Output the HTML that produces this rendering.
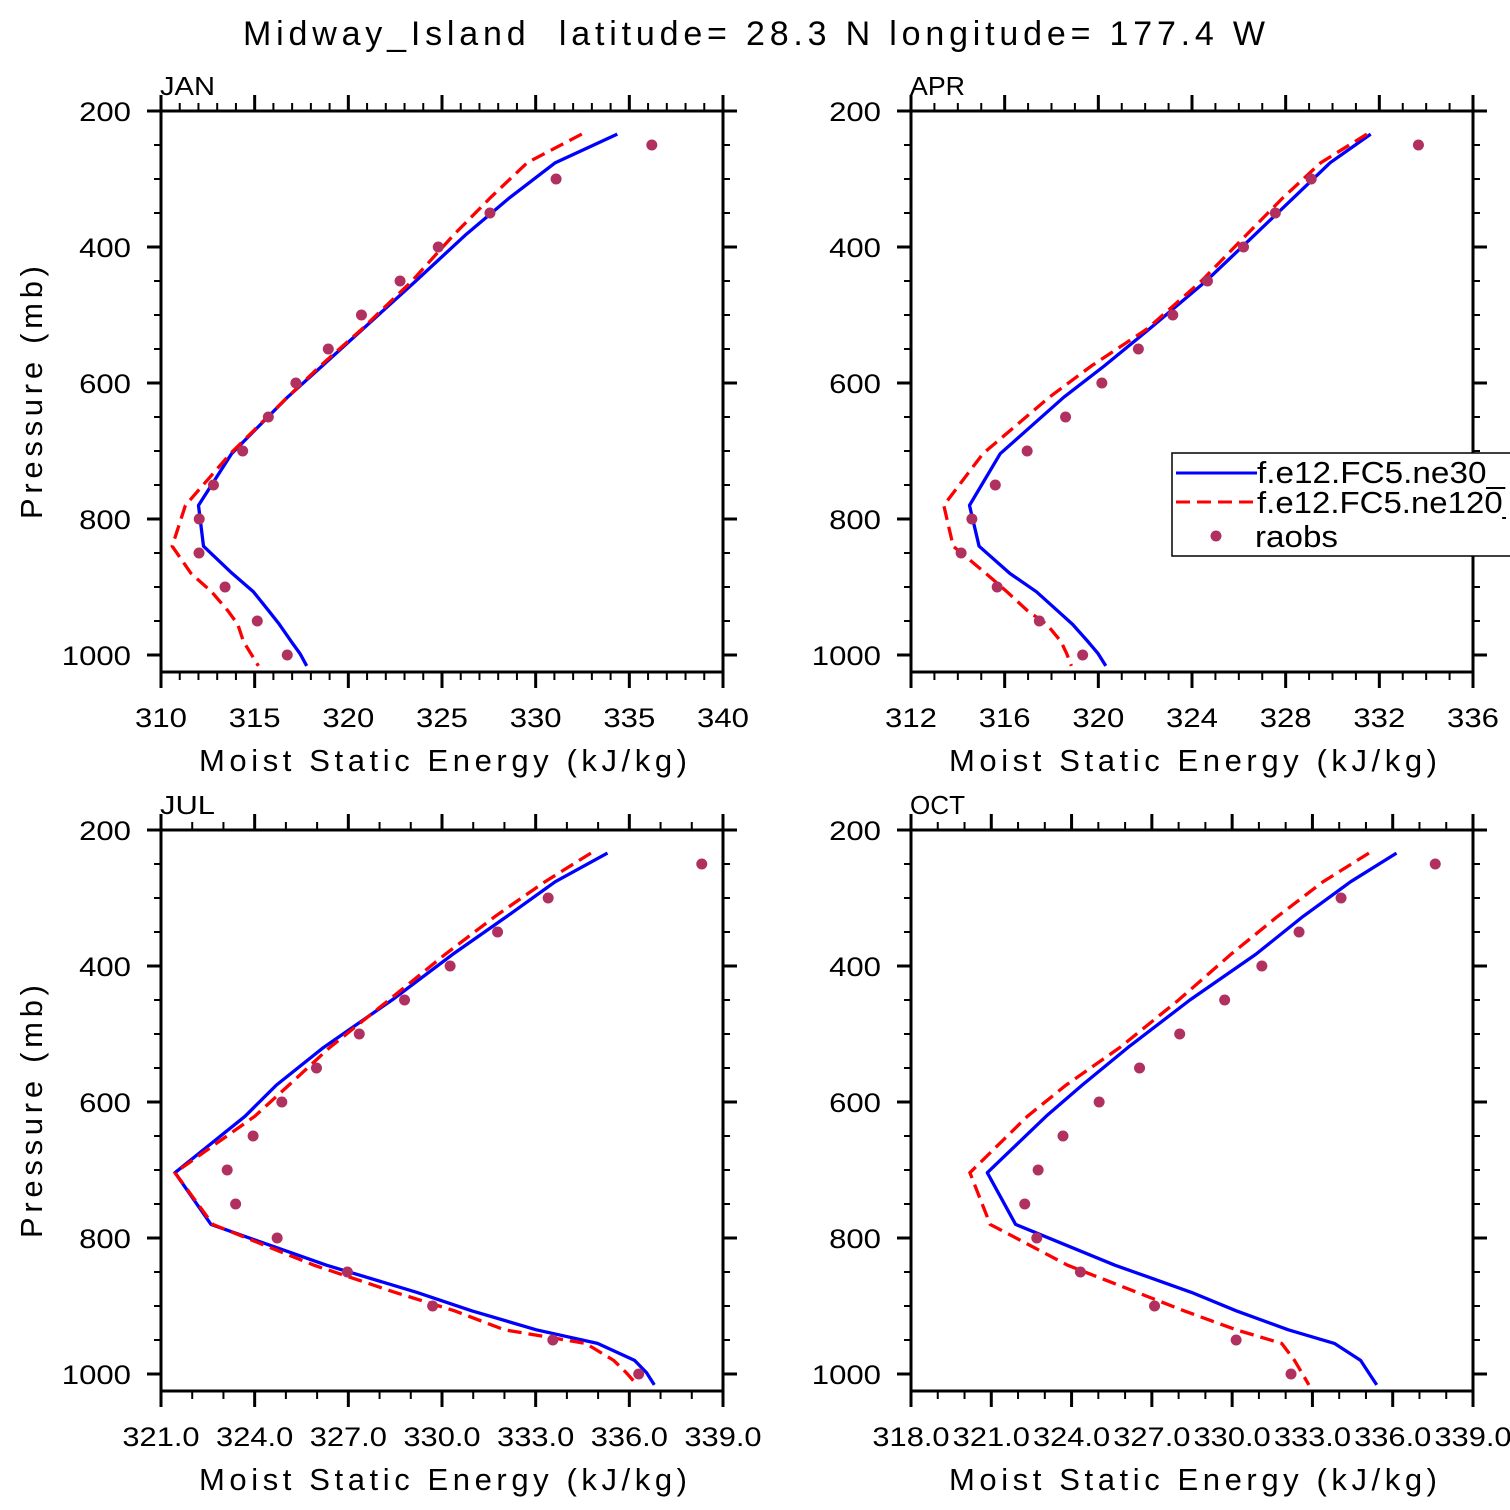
<!DOCTYPE html>
<html>
<head>
<meta charset="utf-8">
<style>
html,body{margin:0;padding:0;background:#fff;width:1510px;height:1510px;overflow:hidden;}
svg{display:block;font-family:"Liberation Sans",sans-serif;}
</style>
</head>
<body>
<svg id="chart" width="1510" height="1510" viewBox="0 0 1510 1510" xmlns="http://www.w3.org/2000/svg">
<text x="243" y="45" font-size="34" textLength="1022" lengthAdjust="spacing" fill="#000" xml:space="preserve">Midway_Island  latitude= 28.3 N longitude= 177.4 W</text>
</svg>
<script>
// Model pressure levels (mb)
const levels = [234,276,327,383,450,520,575,621,704,780,840,880,907,935,955,980,998,1016];
// Observation pressure levels (mb)
const obsLevels = [250,300,350,400,450,500,550,600,650,700,750,800,850,900,950,1000];

const janNe30  = [334.36,331.05,328.63,326.23,323.6,320.8,318.6,316.75,313.77,312.0,312.27,313.8,314.93,315.75,316.32,316.95,317.42,317.78];
const janNe120 = [332.46,329.55,327.6,325.6,323.4,320.75,318.5,316.75,313.7,311.3,310.6,311.6,312.7,313.57,314.1,314.4,314.8,315.2];
const janObs   = [336.2,331.09,327.56,324.8,322.76,320.7,318.93,317.2,315.73,314.36,312.8,312.04,312.03,313.42,315.14,316.74];

const aprNe30  = [331.63,329.9,328.35,326.65,324.6,322.2,320.25,318.52,315.81,314.5,314.91,316.22,317.36,318.26,318.9,319.55,319.99,320.32];
const aprNe120 = [331.47,329.5,327.9,326.3,324.4,322.1,319.7,317.9,315.07,313.4,313.8,315.2,316.1,316.98,317.8,318.4,318.65,318.85];
const aprObs   = [333.67,329.09,327.56,326.2,324.66,323.18,321.71,320.15,318.6,316.96,315.6,314.6,314.14,315.68,317.48,319.33];

const julNe30  = [335.3,333.63,332.08,330.34,328.4,326.2,324.7,323.69,321.45,322.6,326.3,329.2,330.95,333.02,334.98,336.17,336.55,336.8];
const julNe120 = [334.77,333.3,331.7,330.1,328.3,326.4,325.1,324.0,321.45,322.66,325.9,328.5,330.4,332.0,334.6,335.5,335.9,336.25];
const julObs   = [338.32,333.4,331.78,330.26,328.8,327.35,325.98,324.87,323.95,323.12,323.39,324.72,326.97,329.7,333.55,336.3];

const octNe30  = [336.14,334.43,332.65,330.88,328.42,326.1,324.4,323.05,320.85,321.91,325.62,328.48,330.15,332.1,333.82,334.8,335.1,335.4];
const octNe120 = [335.11,333.4,331.7,329.95,328.0,325.8,323.8,322.35,320.2,320.96,323.85,326.45,328.2,330.15,331.85,332.33,332.6,332.87];
const octObs   = [337.59,334.07,332.5,331.11,329.72,328.04,326.54,325.03,323.68,322.75,322.25,322.7,324.33,327.1,330.15,332.2];

const yTicks = [200,400,600,800,1000];
const janXTicks = [310,315,320,325,330,335,340];
const aprXTicks = [312,316,320,324,328,332,336];
const julXTicks = [321,324,327,330,333,336,339];
const octXTicks = [318,321,324,327,330,333,336,339];

const NS = "http://www.w3.org/2000/svg";
const svg = document.getElementById('chart');
function mk(tag, attrs, parent){
  const e = document.createElementNS(NS, tag);
  for (const k in attrs) e.setAttribute(k, attrs[k]);
  (parent||svg).appendChild(e);
  return e;
}

const panels = [
  {key:'jan', label:'JAN', x0:161, y0:111, xmin:310, xmax:340, ticks:janXTicks, dec:0, blue:janNe30, red:janNe120, obs:janObs, ylab:true},
  {key:'apr', label:'APR', x0:911, y0:111, xmin:312, xmax:336, ticks:aprXTicks, dec:0, blue:aprNe30, red:aprNe120, obs:aprObs, ylab:false},
  {key:'jul', label:'JUL', x0:161, y0:830, xmin:321, xmax:339, ticks:julXTicks, dec:1, blue:julNe30, red:julNe120, obs:julObs, ylab:true},
  {key:'oct', label:'OCT', x0:911, y0:830, xmin:318, xmax:339, ticks:octXTicks, dec:1, blue:octNe30, red:octNe120, obs:octObs, ylab:false}
];
const W = 562, H = 561, PPM = 0.68;

function labLen(s){ let n=0; for(const c of s) n += (c==='.')?8:17.3; return n; }

panels.forEach(p=>{
  const g = mk('g', {});
  
  
  const xs = v => p.x0 + (v - p.xmin) / (p.xmax - p.xmin) * W;
  const ys = pr => p.y0 + (pr - 200) * PPM;
  const bottom = p.y0 + H, right = p.x0 + W;

  const clipId = 'clip-' + p.key;
  const cp = mk('clipPath', {id: clipId}, g);
  mk('rect', {x:p.x0, y:p.y0, width:W, height:H}, cp);

  for (let v = p.xmin; v <= p.xmax + 1e-6; v += 1) {
    const isMajor = p.ticks.some(t => Math.abs(t - v) < 1e-6);
    const L = isMajor ? 16 : 8;
    const x = xs(v);
    const tb = mk('line', {x1:x, x2:x, y1:bottom, y2:bottom+L, stroke:'#000', 'stroke-width':isMajor?3:2}, g);
    
    
    mk('line', {x1:x, x2:x, y1:p.y0, y2:p.y0-L, stroke:'#000', 'stroke-width':isMajor?3:2}, g);
  }
  for (let pr = 200; pr <= 1000; pr += 50) {
    const isMajor = pr % 200 === 0;
    const L = isMajor ? 14 : 7;
    const y = ys(pr);
    const tl = mk('line', {x1:p.x0, x2:p.x0-L, y1:y, y2:y, stroke:'#000', 'stroke-width':isMajor?3:2}, g);
    
    
    mk('line', {x1:right, x2:right+L, y1:y, y2:y, stroke:'#000', 'stroke-width':isMajor?3:2}, g);
  }
  p.ticks.forEach(t=>{
    const s = t.toFixed(p.dec);
    const len = labLen(s);
    const tx = mk('text', {x:xs(t)-len/2, y:bottom+55, 'font-size':27, textLength:len, lengthAdjust:'spacingAndGlyphs', fill:'#000'}, g);
    
    
    tx.textContent = s;
  });
  yTicks.forEach(t=>{
    const s = String(t);
    const len = labLen(s);
    const ty = mk('text', {x:p.x0-30-len, y:ys(t)+10, 'font-size':27, textLength:len, lengthAdjust:'spacingAndGlyphs', fill:'#000'}, g);
    
    
    ty.textContent = s;
  });
  const xt = mk('text', {x:p.x0+38, y:bottom+99, 'font-size':31, textLength:488, lengthAdjust:'spacing', fill:'#000'}, g);
  
  
  xt.textContent = 'Moist Static Energy (kJ/kg)';
  if (p.ylab) {
    const cy = p.y0 + 282;
    const yt = mk('text', {x:0, y:0, 'font-size':31, textLength:253, lengthAdjust:'spacing', fill:'#000', transform:`translate(42,${cy+126}) rotate(-90)`}, g);
    
    
    yt.textContent = 'Pressure (mb)';
  }
  const pl = mk('text', {x:p.x0-1, y:p.y0-16, 'font-size':26, textLength:55, lengthAdjust:'spacingAndGlyphs', fill:'#000'}, g);
  
  
  pl.textContent = p.label;

  const dg = mk('g', {'clip-path':`url(#${clipId})`}, g);
  const ptsOf = arr => arr.map((v,i)=> xs(v).toFixed(1)+','+ys(levels[i]).toFixed(1)).join(' ');
  const blue = mk('polyline', {points:ptsOf(p.blue), fill:'none', stroke:'#0000ff', 'stroke-width':3.3, 'stroke-linejoin':'round'}, dg);
  
  
  const red = mk('polyline', {points:ptsOf(p.red), fill:'none', stroke:'#ff0000', 'stroke-width':3.3, 'stroke-dasharray':'14,7'}, dg);
  
  
  p.obs.forEach((v,i)=>{
    const c = mk('circle', {cx:xs(v), cy:ys(obsLevels[i]), r:5.5, fill:'#b03060'}, dg);
    
    
  });

  const fr = mk('rect', {x:p.x0, y:p.y0, width:W, height:H, fill:'none', stroke:'#000', 'stroke-width':3}, g);
  
  
});

// legend (APR panel)
const lg = mk('g', {});


mk('clipPath', {id:'legclip'}, lg).appendChild(document.createElementNS(NS,'rect'));
const lcr = lg.querySelector('#legclip rect');
lcr.setAttribute('x', 1160); lcr.setAttribute('y', 440); lcr.setAttribute('width', 346); lcr.setAttribute('height', 130);
mk('rect', {x:1172, y:453, width:360, height:103, fill:'#fff', stroke:'#000', 'stroke-width':1.5}, lg);
const l1 = mk('line', {x1:1176, x2:1257, y1:473, y2:473, stroke:'#0000ff', 'stroke-width':3}, lg);


const t1 = mk('text', {x:1257, y:483, 'font-size':31, textLength:248, lengthAdjust:'spacingAndGlyphs', fill:'#000', 'clip-path':'url(#legclip)'}, lg);


t1.textContent = 'f.e12.FC5.ne30_';
const l2 = mk('line', {x1:1176, x2:1257, y1:502, y2:502, stroke:'#ff0000', 'stroke-width':3, 'stroke-dasharray':'14,7'}, lg);


const t2 = mk('text', {x:1257, y:513, 'font-size':31, textLength:264, lengthAdjust:'spacingAndGlyphs', fill:'#000', 'clip-path':'url(#legclip)'}, lg);


t2.textContent = 'f.e12.FC5.ne120_';
const c3 = mk('circle', {cx:1216, cy:536, r:5.5, fill:'#b03060'}, lg);


const t3 = mk('text', {x:1255, y:547, 'font-size':31, textLength:83, lengthAdjust:'spacingAndGlyphs', fill:'#000'}, lg);


t3.textContent = 'raobs';
</script>
</body>
</html>
